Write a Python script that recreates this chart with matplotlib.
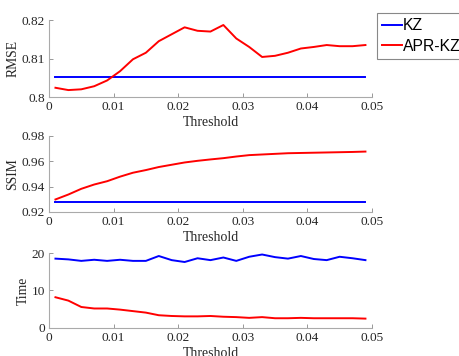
import numpy as np
import matplotlib.pyplot as plt

plt.rcParams["font.family"] = "Liberation Serif"

# thresholds and measured values
thr = np.arange(0.001, 0.050, 0.002)

rmse_kz = 0.8052
rmse_apr = [0.8024, 0.8018, 0.8020, 0.8028, 0.8043, 0.8067, 0.8098, 0.8115, 0.8145,
            0.8163, 0.8181, 0.8172, 0.8170, 0.8187, 0.8152, 0.8130, 0.8104, 0.8107,
            0.8115, 0.8126, 0.8130, 0.8135, 0.8132, 0.8132, 0.8135]

ssim_kz = 0.9278
ssim_apr = [0.9299, 0.9338, 0.9383, 0.9417, 0.9443, 0.9479, 0.9510, 0.9531, 0.9555,
            0.9573, 0.9591, 0.9604, 0.9615, 0.9625, 0.9638, 0.9649, 0.9654, 0.9659,
            0.9664, 0.9666, 0.9668, 0.9670, 0.9672, 0.9674, 0.9677]

time_kz = [18.5, 18.3, 17.9, 18.2, 17.9, 18.2, 17.9, 17.9, 19.2, 18.1, 17.6, 18.6,
           18.1, 18.8, 17.9, 19.0, 19.6, 18.9, 18.5, 19.2, 18.4, 18.1, 19.0, 18.6, 18.1]
time_apr = [8.2, 7.3, 5.6, 5.2, 5.2, 4.9, 4.5, 4.1, 3.4, 3.2, 3.1, 3.1, 3.2, 3.0,
            2.9, 2.7, 2.9, 2.6, 2.6, 2.7, 2.6, 2.6, 2.6, 2.6, 2.5]

fig = plt.figure(figsize=(4.6, 3.56), dpi=100)

boxes = [[0.1065, 0.7275, 0.702, 0.2163],
         [0.1065, 0.4045, 0.702, 0.2135],
         [0.1065, 0.0787, 0.702, 0.2106]]
ylabels = ["RMSE", "SSIM", "Time"]
ylims = [(0.8, 0.82), (0.92, 0.98), (0, 20)]
yticks = [[0.8, 0.81, 0.82], [0.92, 0.94, 0.96, 0.98], [0, 10, 20]]
kz_data = [np.full(len(thr), rmse_kz), np.full(len(thr), ssim_kz), time_kz]
apr_data = [rmse_apr, ssim_apr, time_apr]

fs = 9.6
for i in range(3):
    ax = fig.add_axes(boxes[i])
    l1, = ax.plot(thr, kz_data[i], color="#0000ff", lw=1.4, label="KZ")
    l2, = ax.plot(thr, apr_data[i], color="#ff0000", lw=1.4, label="APR-KZ")
    ax.set_xlim(0, 0.05)
    ax.set_ylim(*ylims[i])
    ax.set_xticks([0, 0.01, 0.02, 0.03, 0.04, 0.05])
    ax.set_xticklabels(["0", "0.01", "0.02", "0.03", "0.04", "0.05"])
    ax.set_yticks(yticks[i])
    ax.set_yticklabels([("%g" % v) for v in yticks[i]])
    ax.tick_params(direction="in", length=3, width=0.6, color="#888888",
                   labelsize=fs, labelcolor="#262626")
    ax.tick_params(axis="x", pad=3)
    ax.tick_params(axis="y", pad=3)
    for s in ["top", "right"]:
        ax.spines[s].set_visible(False)
    for s in ["left", "bottom"]:
        ax.spines[s].set_color("#aaaaaa")
        ax.spines[s].set_linewidth(0.8)
    ax.set_xlabel("Threshold", fontsize=10, labelpad=2, color="#262626")
    ax.set_ylabel(ylabels[i], fontsize=9.8, labelpad=1.5, color="#262626")

leg = fig.legend([l1, l2], ["KZ", "APR-KZ"], loc="upper left",
                 bbox_to_anchor=(377 / 460, 1 - 13 / 356),
                 prop={"family": "Liberation Sans", "size": 11.3},
                 handlelength=1.25, handletextpad=0.05, borderpad=0.35,
                 borderaxespad=0, labelspacing=0.35, fancybox=False, framealpha=1)
leg.get_frame().set_edgecolor("#888888")
leg.get_frame().set_linewidth(0.8)

fig.savefig("out.png", dpi=100)
